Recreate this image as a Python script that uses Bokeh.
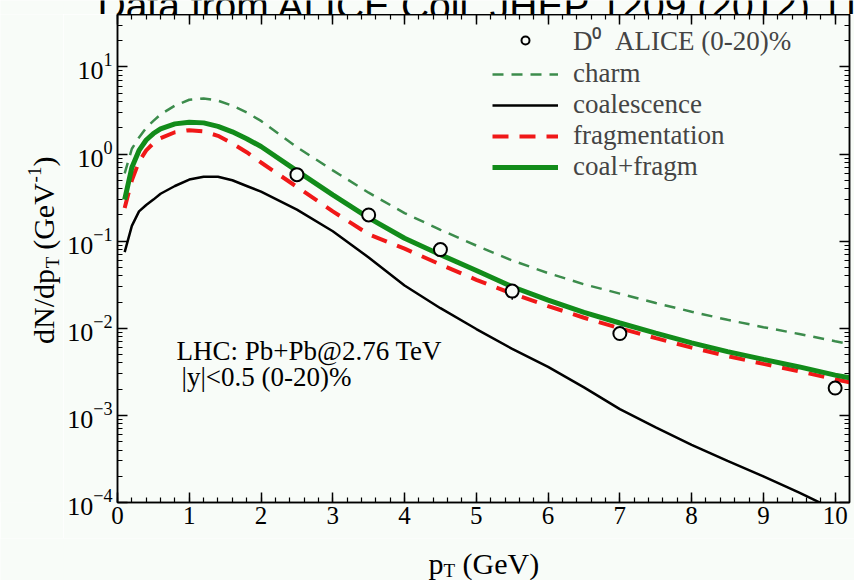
import math
from bokeh.plotting import figure
from bokeh.layouts import column, row
from bokeh.models import (Range1d, LogAxis, LinearAxis, FixedTicker,
                          Label, Legend, LegendItem, CustomJSTickFormatter)
from bokeh.embed import file_html
from bokeh.resources import INLINE

# ---------------- data ----------------
pt = [0.1, 0.2, 0.3, 0.4, 0.5, 0.6, 0.8, 1.0, 1.2, 1.4, 1.6, 1.8, 2.0, 2.5, 3.0,
      3.5, 4.0, 4.5, 5.0, 5.5, 6.0, 6.5, 7.0, 7.5, 8.0, 8.5, 9.0, 9.5, 10.0, 10.2]

charm = [0.60, 1.15, 1.55, 2.0, 2.4, 2.85, 3.6, 4.2, 4.35, 4.1, 3.6, 3.0, 2.4, 1.2, 0.65,
         0.36, 0.21, 0.135, 0.089, 0.060, 0.043, 0.032, 0.025, 0.0195, 0.0155, 0.0125,
         0.0103, 0.0086, 0.0071, 0.0066]

coalescence = [0.075, 0.15, 0.22, 0.26, 0.30, 0.35, 0.43, 0.51, 0.55, 0.55, 0.50, 0.43,
               0.37, 0.23, 0.13, 0.065, 0.031, 0.0170, 0.0098, 0.0058, 0.0036, 0.0021,
               0.00118, 0.00073, 0.00046, 0.00030, 0.000200, 0.000130, 0.000082, 0.00007]

fragmentation = [0.24, 0.50, 0.82, 1.10, 1.33, 1.52, 1.78, 1.88, 1.82, 1.62, 1.32, 1.05,
                 0.80, 0.42, 0.22, 0.12, 0.082, 0.054, 0.036, 0.025, 0.0180, 0.0132,
                 0.0100, 0.0077, 0.0060, 0.0048, 0.0039, 0.0032, 0.0026, 0.0024]

coal_fragm = [0.30, 0.70, 1.10, 1.45, 1.72, 1.95, 2.22, 2.32, 2.28, 2.08, 1.80, 1.50,
              1.22, 0.64, 0.34, 0.185, 0.108, 0.070, 0.046, 0.030, 0.021, 0.0152,
              0.0115, 0.0088, 0.0068, 0.0054, 0.0044, 0.0036, 0.0029, 0.0027]

alice_pt = [2.5, 3.5, 4.5, 5.5, 7.0, 10.0]
alice_y = [0.58, 0.20, 0.080, 0.0267, 0.0087, 0.00206]
alice_lo = [0.55, 0.19, 0.076, 0.0212, 0.0082, 0.00196]
alice_hi = [0.61, 0.21, 0.084, 0.0300, 0.0092, 0.00216]

x_ticks = [0, 1, 2, 3, 4, 5, 6, 7, 8, 9, 10]
x_minor = [i * 0.2 for i in range(0, 52)]
y_ticks = [1e-4, 1e-3, 1e-2, 1e-1, 1e0, 1e1]
y_minor = [m * d for d in y_ticks for m in range(2, 10)]

BG = "#f8fcf8"
SERIF = "Liberation Serif"

# ---------------- layout geometry (canvas pixels) ----------------
W, H = 854, 580
TOP_H = 14          # strip holding the (cut-off) title
YLAB_W = 63         # strip holding the y axis title
XLAB_H = 42         # strip holding the x axis title
MID_H = H - TOP_H - XLAB_H


def blank(w, h):
    f = figure(width=w, height=h, x_range=Range1d(0, 1), y_range=Range1d(0, 1),
               min_border=0, x_axis_location=None, y_axis_location=None,
               toolbar_location=None, output_backend="svg",
               background_fill_color=BG, border_fill_color=BG, outline_line_color=None)
    f.grid.visible = False
    return f


def lab(fig, left, bottom, text, cx, cy, size, font=SERIF, angle=0.0,
        align="left", baseline="alphabetic"):
    """cx, cy: canvas position (from page top-left); left/bottom: frame edges of fig."""
    fig.add_layout(Label(x=cx - left, y=bottom - cy, x_units="screen", y_units="screen",
                         text=text, text_font=font, text_font_size=size, angle=angle,
                         text_align=align, text_baseline=baseline,
                         text_color="black"))


# ---------------- main plot ----------------
p = figure(width=W - YLAB_W, height=MID_H, y_axis_type="log",
           x_range=Range1d(0, 10.2), y_range=Range1d(1e-4, 40),
           output_backend="svg", toolbar_location=None,
           min_border_left=117 - YLAB_W, min_border_right=5, min_border_top=0,
           min_border_bottom=36,
           background_fill_color=BG, border_fill_color=BG)
p.xgrid.visible = False
p.ygrid.visible = False
p.outline_line_color = "black"
p.outline_line_width = 1.5

bottom_ax = p.below[0]
left_ax = p.left[0]
xt = FixedTicker(ticks=x_ticks, minor_ticks=x_minor)
yt = FixedTicker(ticks=y_ticks, minor_ticks=y_minor)
bottom_ax.ticker = xt
left_ax.ticker = yt

top_ax = LinearAxis(ticker=xt, formatter=CustomJSTickFormatter(code="return ''"))
right_ax = LogAxis(ticker=yt, formatter=CustomJSTickFormatter(code="return ''"))
p.add_layout(top_ax, "above")
p.add_layout(right_ax, "right")

for ax in [bottom_ax, left_ax, top_ax, right_ax]:
    ax.axis_line_width = 1.5
    ax.major_tick_in = 10
    ax.major_tick_out = 0
    ax.minor_tick_in = 5
    ax.minor_tick_out = 0
    ax.major_tick_line_width = 1.5
    ax.minor_tick_line_width = 1.2
    ax.major_label_text_font = SERIF
    ax.major_label_text_color = "black"
for ax in [top_ax, right_ax]:
    ax.major_label_text_font_size = "0px"
    ax.major_label_standoff = 0
bottom_ax.major_label_text_font_size = "25px"
bottom_ax.major_label_standoff = 4
left_ax.major_label_text_font_size = "26px"
left_ax.major_label_standoff = 5

# curves
r_charm = p.line(pt, charm, line_color="#3c8c4c", line_width=2.5, line_dash="11 8")
r_coal = p.line(pt, coalescence, line_color="black", line_width=2.5)
r_frag = p.line(pt, fragmentation, line_color="#f01818", line_width=4, line_dash="16 11")
r_tot = p.line(pt, coal_fragm, line_color="#128c1a", line_width=5)

# data
p.segment(alice_pt, alice_lo, alice_pt, alice_hi, line_color="black", line_width=1.5)
r_data = p.scatter(alice_pt, alice_y, marker="circle", size=13, fill_color=BG,
                   line_color="black", line_width=2)

legend = Legend(items=[
    LegendItem(label="D\u2070\u2002ALICE (0-20)%", renderers=[r_data]),
    LegendItem(label="charm", renderers=[r_charm]),
    LegendItem(label="coalescence", renderers=[r_coal]),
    LegendItem(label="fragmentation", renderers=[r_frag]),
    LegendItem(label="coal+fragm", renderers=[r_tot]),
], location=(375, 320), border_line_color=None, background_fill_alpha=0,
    label_text_font=SERIF, label_text_font_size="27px", glyph_width=66, glyph_height=20,
    label_standoff=15, spacing=0, padding=5, margin=0, label_height=30)
p.add_layout(legend)

# frame of the main plot on the page: left 117, bottom 502
# (Bokeh places "alphabetic" text ~0.25 em lower, so the baselines are raised)
lab(p, 117, 502, "LHC: Pb+Pb@2.76 TeV", 176, 350, "27px")
lab(p, 117, 502, "|y|<0.5 (0-20)%", 181, 376, "27px")

# ---------------- title strip ----------------
t_fig = blank(W, TOP_H)
lab(t_fig, 0, TOP_H, "Data from ALICE Coll. JHEP 1209 (2012) 112", 97, 5, "39px",
    font="Liberation Sans")

# ---------------- y label strip (pieces centred, rotated) ----------------
y_fig = blank(YLAB_W, MID_H)
yb = TOP_H + MID_H
a = math.pi / 2
lab(y_fig, 0, yb, "dN/dp", 43, 342, "30px", angle=a, align="center", baseline="middle")
lab(y_fig, 0, yb, "T", 52, 298, "19px", angle=a, align="center", baseline="middle")
lab(y_fig, 0, yb, "(GeV", 43, 252, "30px", angle=a, align="center", baseline="middle")
lab(y_fig, 0, yb, "-1", 34, 210, "19px", angle=a, align="center", baseline="middle")
lab(y_fig, 0, yb, ")", 43, 197, "30px", angle=a, align="center", baseline="middle")

# ---------------- x label strip ----------------
x_fig = blank(W, XLAB_H)
lab(x_fig, 0, H, "p", 428, 563, "30px")
lab(x_fig, 0, H, "T", 443, 570, "19px")
lab(x_fig, 0, H, "(GeV)", 462, 563, "30px")

layout = column(t_fig, row(y_fig, p), x_fig)
open("out.html", "w").write(file_html(layout, INLINE))
